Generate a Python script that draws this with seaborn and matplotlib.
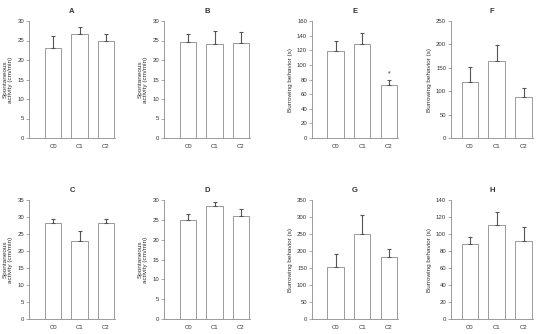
import numpy as np
import matplotlib
matplotlib.use("Agg")
import matplotlib.pyplot as plt
import seaborn as sns
import pandas as pd

sns.set_style("white")
plt.rcParams["font.family"] = ["Liberation Sans", "DejaVu Sans"]

groups = ["C0", "C1", "C2"]

# mean values and upper error (SEM) per panel
panel_a = [23.1, 26.6, 24.9]
panel_a_err = [3.0, 1.9, 1.7]
panel_b = [24.5, 24.0, 24.3]
panel_b_err = [2.1, 3.5, 2.8]
panel_e = [119.0, 128.0, 72.7]
panel_e_err = [14.0, 16.0, 6.3]
panel_f = [120.0, 164.0, 88.6]
panel_f_err = [32.0, 35.0, 18.5]
panel_c = [28.2, 22.8, 28.2]
panel_c_err = [1.2, 3.2, 1.2]
panel_d = [25.0, 28.6, 26.0]
panel_d_err = [1.5, 0.8, 1.8]
panel_g = [152.0, 249.0, 183.0]
panel_g_err = [38.0, 57.5, 23.6]
panel_h = [87.8, 110.3, 91.7]
panel_h_err = [9.1, 15.7, 17.0]

spont_label = "Spontaneous\nactivity (cm/min)"
burrow_label = "Burrowing behavior (s)"

panels = [
    ("A", panel_a, panel_a_err, spont_label, 30, 5),
    ("B", panel_b, panel_b_err, spont_label, 30, 5),
    ("E", panel_e, panel_e_err, burrow_label, 160, 20),
    ("F", panel_f, panel_f_err, burrow_label, 250, 50),
    ("C", panel_c, panel_c_err, spont_label, 35, 5),
    ("D", panel_d, panel_d_err, spont_label, 30, 5),
    ("G", panel_g, panel_g_err, burrow_label, 350, 50),
    ("H", panel_h, panel_h_err, burrow_label, 140, 20),
]

W, H = 550, 334
fig = plt.figure(figsize=(5.5, 3.34), dpi=100)

col_left = [29, 164, 312, 451]
col_width = [86, 86, 86, 82]
col_xmin = [-0.92, -0.92, -0.88, -0.70]
row_top = [21, 200]
row_bottom = [138, 319]

edge = "#9a9a9a"
spine = "#8a8a8a"
txt = "#333333"

for i, (name, vals, errs, ylab, ymax, step) in enumerate(panels):
    r, c = divmod(i, 4)
    rect = [col_left[c] / W, 1 - row_bottom[r] / H,
            col_width[c] / W, (row_bottom[r] - row_top[r]) / H]
    ax = fig.add_axes(rect)
    df = pd.DataFrame({"group": groups, "value": vals})
    sns.barplot(data=df, x="group", y="value", ax=ax, color="white",
                edgecolor=edge, linewidth=0.7, width=0.62, errorbar=None)
    ax.errorbar(range(3), vals, yerr=[np.zeros(3), errs], fmt="none",
                ecolor="#555555", elinewidth=0.8, capsize=1.6, capthick=0.8)
    if name == "E":
        ax.text(2, vals[2] + errs[2] + 4, "*", ha="center", va="bottom",
                fontsize=5, color=txt)
    ax.set_xlim(col_xmin[c], 2.34)
    ax.set_ylim(0, ymax)
    ax.set_yticks(np.arange(0, ymax + 1, step))
    ax.set_xlabel("")
    ax.set_ylabel(ylab, fontsize=4.6, color=txt, labelpad=3, linespacing=1.1)
    ax.set_title(name, fontsize=5.5, fontweight="bold", color=txt, pad=6)
    for s in ["top", "right"]:
        ax.spines[s].set_visible(False)
    for s in ["left", "bottom"]:
        ax.spines[s].set_color(spine)
        ax.spines[s].set_linewidth(0.6)
    ax.tick_params(axis="y", length=2, width=0.5, color=spine,
                   labelsize=4.3, labelcolor=txt, pad=1.5, left=True)
    ax.tick_params(axis="x", length=0, labelsize=4.3, labelcolor=txt, pad=4)

fig.savefig("out.png", dpi=100, facecolor="white")
